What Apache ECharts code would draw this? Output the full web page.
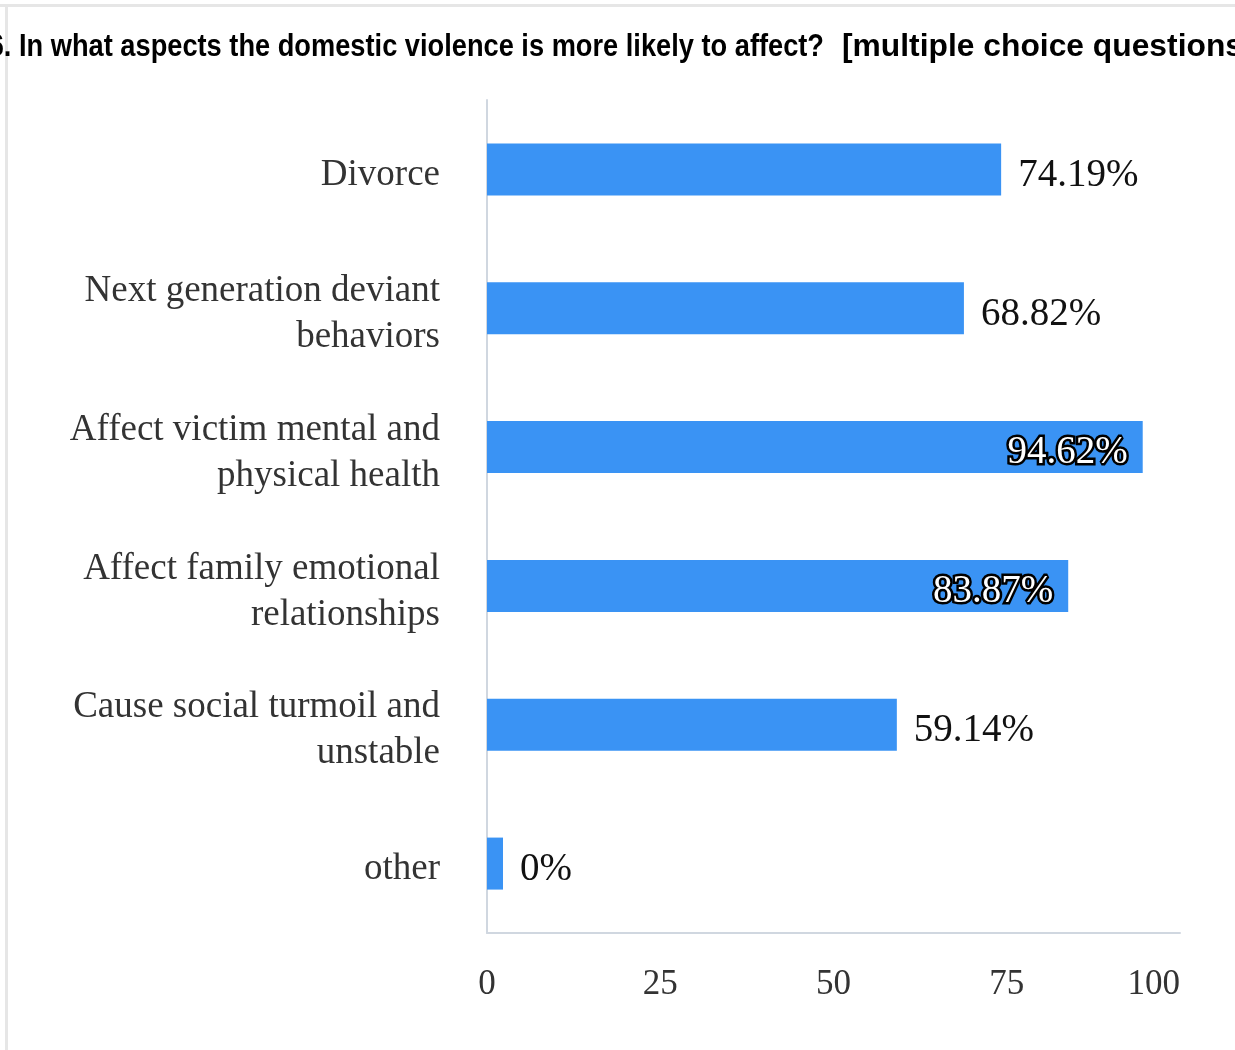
<!DOCTYPE html>
<html>
<head>
<meta charset="utf-8">
<script src="https://cdn.jsdelivr.net/npm/echarts@6/dist/echarts.min.js"></script>
<style>
html,body{margin:0;padding:0;background:#fff;}
#chart{width:1235px;height:1050px;}
</style>
</head>
<body>
<div id="chart"></div>
<script>
const titleMain = '6. In what aspects the domestic violence is more likely to affect?';
const titleNote = '[multiple choice questions]';
const categories = [
  'Divorce',
  'Next generation deviant\nbehaviors',
  'Affect victim mental and\nphysical health',
  'Affect family emotional\nrelationships',
  'Cause social turmoil and\nunstable',
  'other'
];
const values = [74.19, 68.82, 94.62, 83.87, 59.14, 0];
const valueLabels = ['74.19%', '68.82%', '94.62%', '83.87%', '59.14%', '0%'];
const insideIdx = [2, 3];
const xTicks = [0, 25, 50, 75, 100];

// title scaling to match condensed reference font
const tFont = 'bold 32px "Liberation Sans"';
const cv = document.createElement('canvas').getContext('2d');
cv.font = tFont;
const sxA = 805 / cv.measureText('In what aspects the domestic violence is more likely to affect?').width;
const prefixW = cv.measureText('6. ').width * sxA;
const sxB = 401 / cv.measureText('[multiple choice questions').width;

const chart = echarts.init(document.getElementById('chart'), null, {renderer: 'canvas'});
const serif = '"Liberation Serif", "Times New Roman", serif';

chart.setOption({
  animation: false,
  backgroundColor: '#ffffff',
  grid: [
    {left: 487, right: 55, top: 100, bottom: 117, containLabel: false},
    {left: 487, right: 55, top: 106, bottom: 111, containLabel: false}
  ],
  xAxis: [{
    type: 'value', gridIndex: 0, min: 0, max: 100, interval: 25,
    splitLine: {show: false},
    axisTick: {show: false},
    axisLine: {show: true, lineStyle: {color: '#d0d7e0', width: 2}},
    axisLabel: {
      margin: 34, fontFamily: serif, fontSize: 35, color: '#333333',
      alignMaxLabel: 'right',
      formatter: v => xTicks.includes(v) ? String(v) : ''
    }
  }, {
    type: 'value', gridIndex: 1, min: 0, max: 100, show: false
  }],
  yAxis: [{
    type: 'category', gridIndex: 0, inverse: true, data: categories,
    axisTick: {show: false},
    axisLine: {show: true, lineStyle: {color: '#d0d7e0', width: 2}},
    axisLabel: {show: false}
  }, {
    type: 'category', gridIndex: 1, inverse: true, data: categories,
    axisTick: {show: false},
    axisLine: {show: false},
    axisLabel: {margin: 47, fontFamily: serif, fontSize: 37, lineHeight: 46, color: '#333333', align: 'right'}
  }],
  series: [{
    type: 'bar',
    xAxisIndex: 0, yAxisIndex: 0,
    barWidth: 52,
    barMinHeight: 16,
    itemStyle: {color: '#3a93f4'},
    data: values.map((v, i) => {
      const inside = insideIdx.includes(i);
      return {
        value: v,
        label: inside ? {
          show: true, position: 'insideRight', distance: 15, offset: [0, 6],
          formatter: valueLabels[i], fontFamily: serif, fontSize: 39,
          color: '#ffffff', textBorderColor: '#000000', textBorderWidth: 5
        } : {
          show: true, position: 'right', distance: 17, offset: [0, 6],
          formatter: valueLabels[i], fontFamily: serif, fontSize: 39,
          color: '#111111'
        }
      };
    })
  }],
  graphic: [
    {type: 'rect', shape: {x: 0, y: 4, width: 1235, height: 3}, style: {fill: '#e6e6e6'}, silent: true, z: 0},
    {type: 'rect', shape: {x: 5, y: 4, width: 3, height: 1046}, style: {fill: '#e6e6e6'}, silent: true, z: 0},
    {
      type: 'text', x: 19 - prefixW, y: 47, scaleX: sxA, scaleY: 1, z: 10,
      style: {text: titleMain, font: tFont, fill: '#000000', verticalAlign: 'middle'}
    },
    {
      type: 'text', x: 842, y: 47, scaleX: sxB, scaleY: 1, z: 10,
      style: {text: titleNote, font: tFont, fill: '#000000', verticalAlign: 'middle'}
    }
  ]
});
</script>
</body>
</html>
